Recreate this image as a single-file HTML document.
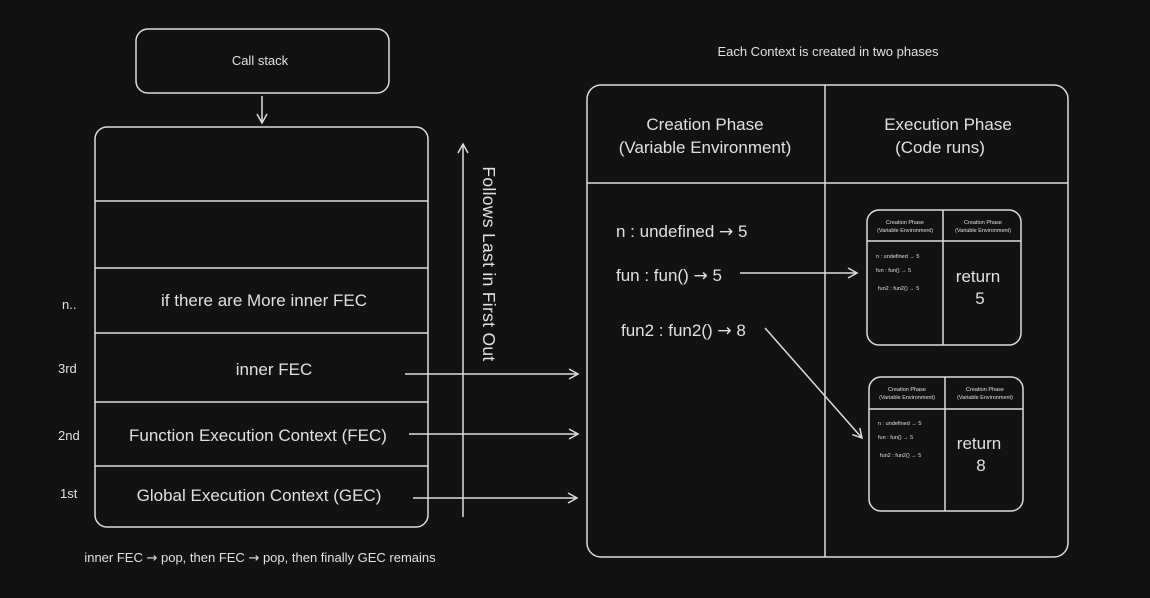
<!DOCTYPE html>
<html><head><style>
html,body{margin:0;padding:0;background:#121212;}
svg{display:block;font-family:"Liberation Sans","DejaVu Sans",sans-serif;}
text{fill:#e0e0e0;}
.ar{font-family:"DejaVu Sans",sans-serif;}
</style></head><body>
<svg width="1150" height="598" viewBox="0 0 1150 598">
<rect width="1150" height="598" fill="#121212"/>
<defs>
<marker id="a" markerWidth="12" markerHeight="12" refX="10" refY="6" orient="auto" markerUnits="userSpaceOnUse">
<path d="M1,1 L10,6 L1,11" fill="none" stroke="#dcdcdc" stroke-width="1.5"/>
</marker>
</defs>
<g stroke="#dcdcdc" stroke-width="1.5" fill="none">
<rect x="136" y="29" width="253" height="64" rx="12"/>
<line x1="262" y1="96" x2="262" y2="123" marker-end="url(#a)"/>
<rect x="95" y="127" width="333" height="400" rx="12"/>
<line x1="95" y1="201" x2="428" y2="201"/>
<line x1="95" y1="268" x2="428" y2="268"/>
<line x1="95" y1="333" x2="428" y2="333"/>
<line x1="95" y1="402" x2="428" y2="402"/>
<line x1="95" y1="466" x2="428" y2="466"/>
<line x1="463" y1="517" x2="463" y2="144" marker-end="url(#a)"/>
<line x1="405" y1="374" x2="578" y2="374" marker-end="url(#a)"/>
<line x1="409" y1="434" x2="578" y2="434" marker-end="url(#a)"/>
<line x1="413" y1="498" x2="577" y2="498" marker-end="url(#a)"/>
<rect x="587" y="85" width="481" height="472" rx="14"/>
<line x1="825" y1="85" x2="825" y2="557"/>
<line x1="587" y1="183" x2="1068" y2="183"/>
<line x1="740" y1="273" x2="857" y2="273" marker-end="url(#a)"/>
<line x1="765" y1="328" x2="862" y2="438" marker-end="url(#a)"/>
<rect x="867" y="210" width="154" height="135" rx="12"/>
<line x1="943" y1="210" x2="943" y2="345"/>
<line x1="867" y1="241" x2="1021" y2="241"/>
<rect x="869" y="377" width="154" height="134" rx="12"/>
<line x1="945" y1="377" x2="945" y2="511"/>
<line x1="869" y1="409" x2="1023" y2="409"/>
</g>
<text x="260" y="65" font-size="13" text-anchor="middle">Call stack</text>
<text x="264" y="306" font-size="17" text-anchor="middle">if there are More inner FEC</text>
<text x="274" y="375" font-size="17" text-anchor="middle">inner FEC</text>
<text x="258" y="441" font-size="17" text-anchor="middle">Function Execution Context (FEC)</text>
<text x="259" y="501" font-size="17" text-anchor="middle">Global Execution Context (GEC)</text>
<text x="62" y="309" font-size="13">n..</text>
<text x="58" y="373" font-size="13">3rd</text>
<text x="58" y="440" font-size="13">2nd</text>
<text x="60" y="498" font-size="13">1st</text>
<text x="260" y="562" font-size="13" text-anchor="middle">inner FEC <tspan class="ar">→</tspan> pop, then FEC <tspan class="ar">→</tspan> pop, then finally GEC remains</text>
<text transform="translate(483,264) rotate(90)" font-size="17.5" text-anchor="middle" letter-spacing="0.3">Follows Last in First Out</text>
<text x="828" y="56" font-size="13" text-anchor="middle">Each Context is created in two phases</text>
<text x="705" y="130" font-size="17" text-anchor="middle">Creation Phase</text>
<text x="705" y="153" font-size="17" text-anchor="middle">(Variable Environment)</text>
<text x="948" y="130" font-size="17" text-anchor="middle">Execution Phase</text>
<text x="940" y="153" font-size="17" text-anchor="middle">(Code runs)</text>
<text x="616" y="237" font-size="17">n : undefined <tspan class="ar">→</tspan> 5</text>
<text x="616" y="281" font-size="17">fun : fun() <tspan class="ar">→</tspan> 5</text>
<text x="621" y="336" font-size="17">fun2 : fun2() <tspan class="ar">→</tspan> 8</text>
<g font-size="5.5">
<text x="905" y="224" text-anchor="middle">Creation Phase</text>
<text x="905" y="232" text-anchor="middle">(Variable Environment)</text>
<text x="983" y="224" text-anchor="middle">Creation Phase</text>
<text x="983" y="232" text-anchor="middle">(Variable Environment)</text>
<text x="876" y="258">n : undefined → 5</text>
<text x="876" y="272">fun : fun() → 5</text>
<text x="878" y="290">fun2 : fun2() → 5</text>
<text x="907" y="391" text-anchor="middle">Creation Phase</text>
<text x="907" y="399" text-anchor="middle">(Variable Environment)</text>
<text x="985" y="391" text-anchor="middle">Creation Phase</text>
<text x="985" y="399" text-anchor="middle">(Variable Environment)</text>
<text x="878" y="425">n : undefined → 5</text>
<text x="878" y="439">fun : fun() → 5</text>
<text x="880" y="457">fun2 : fun2() → 5</text>
</g>
<text x="978" y="282" font-size="17" text-anchor="middle">return</text>
<text x="980" y="304" font-size="17" text-anchor="middle">5</text>
<text x="979" y="449" font-size="17" text-anchor="middle">return</text>
<text x="981" y="471" font-size="17" text-anchor="middle">8</text>
</svg>
</body></html>
